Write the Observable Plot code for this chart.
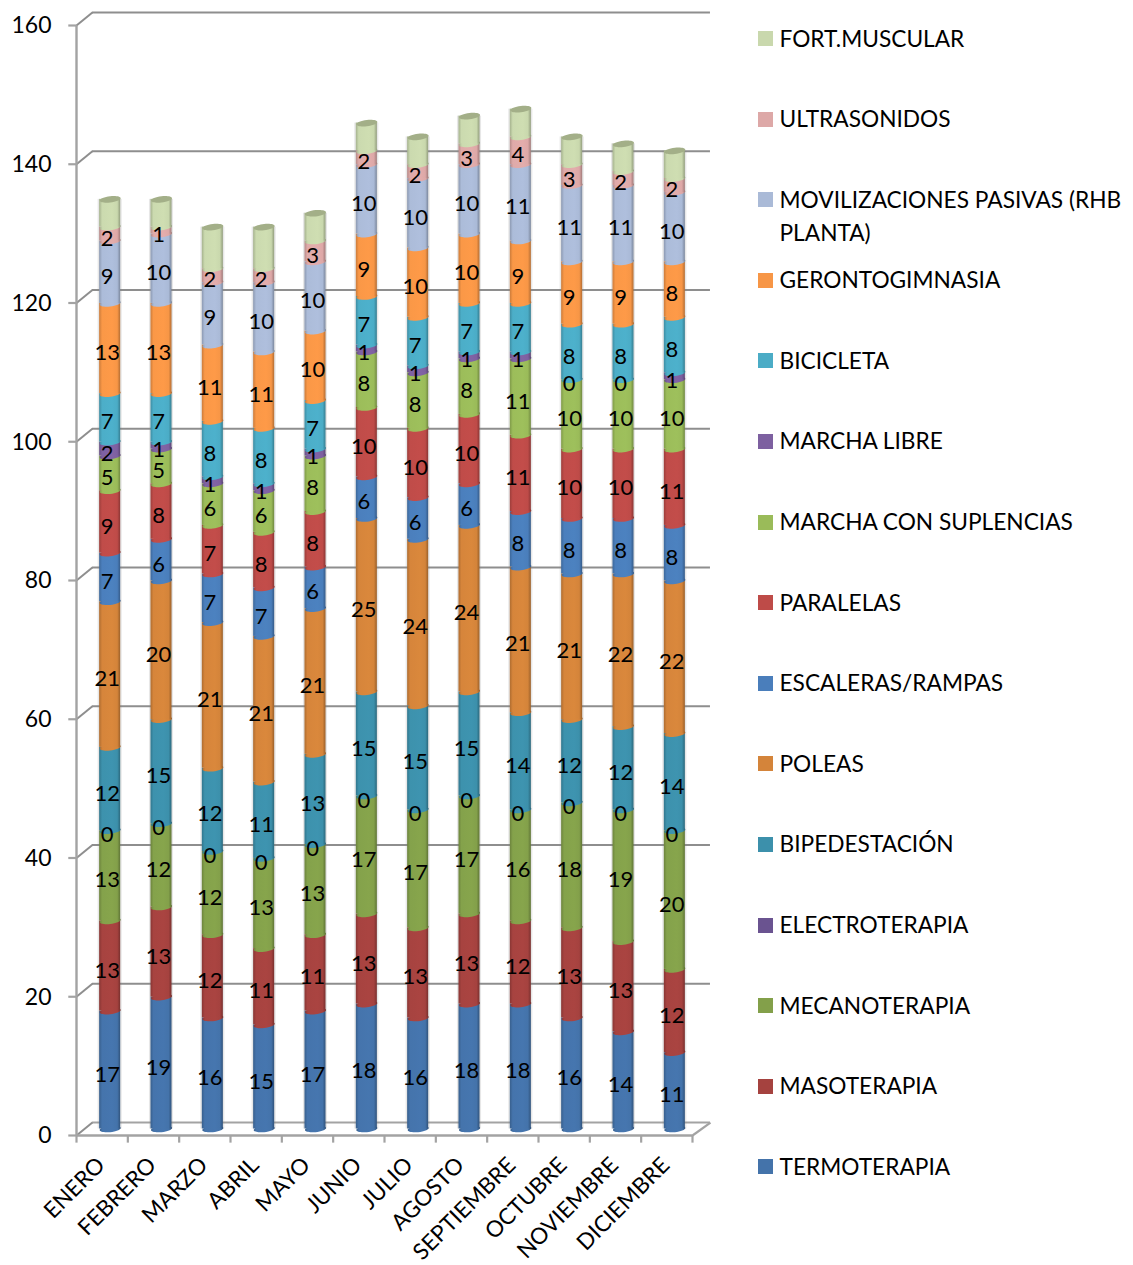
<!DOCTYPE html>
<html lang="es">
<head>
<meta charset="utf-8">
<script src="https://cdn.jsdelivr.net/npm/d3@7"></script>
<script src="https://cdn.jsdelivr.net/npm/@observablehq/plot@0.6"></script>
<style>
html,body{margin:0;padding:0;background:#fff;}
#wrap{position:relative;width:1133px;height:1265px;overflow:hidden;font-family:Lato,sans-serif;}
#wrap svg{display:block;}
#legend{position:absolute;left:758px;top:21.5px;width:372px;color:#000;font-size:22.7px;line-height:33px;}
#legend .row{height:80.6px;display:flex;align-items:flex-start;}
#legend i{flex:none;width:15px;height:15px;margin:9.5px 6.5px 0 0;}
</style>
</head>
<body>
<div id="wrap"></div>
<script>
const months = ["ENERO","FEBRERO","MARZO","ABRIL","MAYO","JUNIO","JULIO","AGOSTO","SEPTIEMBRE","OCTUBRE","NOVIEMBRE","DICIEMBRE"];
const seriesNames = ["TERMOTERAPIA","MASOTERAPIA","MECANOTERAPIA","ELECTROTERAPIA","BIPEDESTACIÓN","POLEAS","ESCALERAS/RAMPAS","PARALELAS","MARCHA CON SUPLENCIAS","MARCHA LIBRE","BICICLETA","GERONTOGIMNASIA","MOVILIZACIONES PASIVAS (RHB PLANTA)","ULTRASONIDOS","FORT.MUSCULAR"];
const colors = ["#4473AA","#A5423F","#83A04A","#6A5390","#3C90AB","#D4843A","#4A7EBB","#BE4B48","#9ABB59","#7D60A0","#4BACC6","#F79646","#AABAD7","#DDA8A7","#C9D8AD"];
const termoterapia  = [17,19,16,15,17,18,16,18,18,16,14,11];
const masoterapia   = [13,13,12,11,11,13,13,13,12,13,13,12];
const mecanoterapia = [13,12,12,13,13,17,17,17,16,18,19,20];
const electroterapia= [0,0,0,0,0,0,0,0,0,0,0,0];
const bipedestacion = [12,15,12,11,13,15,15,15,14,12,12,14];
const poleas        = [21,20,21,21,21,25,24,24,21,21,22,22];
const escaleras     = [7,6,7,7,6,6,6,6,8,8,8,8];
const paralelas     = [9,8,7,8,8,10,10,10,11,10,10,11];
const marchaSupl    = [5,5,6,6,8,8,8,8,11,10,10,10];
const marchaLibre   = [2,1,1,1,1,1,1,1,1,0,0,1];
const bicicleta     = [7,7,8,8,7,7,7,7,7,8,8,8];
const geronto       = [13,13,11,11,10,9,10,10,9,9,9,8];
const movilizaciones= [9,10,9,10,10,10,10,10,11,11,11,10];
const ultrasonidos  = [2,1,2,2,3,2,2,3,4,3,2,2];
const fortMuscular  = [4,4,6,6,4,4,4,4,4,4,4,4];
const yTicks = [0,20,40,60,80,100,120,140,160];
const allSeries = [termoterapia,masoterapia,mecanoterapia,electroterapia,bipedestacion,poleas,escaleras,paralelas,marchaSupl,marchaLibre,bicicleta,geronto,movilizaciones,ultrasonidos,fortMuscular];

// long table with stack extents
const rows = [];
months.forEach((m,i)=>{
  let base=0;
  allSeries.forEach((vals,s)=>{
    rows.push({month:m,i,s,v:vals[i],y1:base,y2:base+vals[i]});
    base+=vals[i];
  });
});
const tops = months.map((m,i)=>({i,top:d3.sum(allSeries,v=>v[i])}));

// 3D look
const wallX = 0.31, wallY = 1.87;
const barDx = 8, barDy = -6.5, halfW = 0.205;
const gridColor = "#8e8e8e", floorColor="#a3a3a3";

function ellipseSymbol(){
  return {draw(ctx,size){
    const a=Math.sqrt(size/Math.PI), b=a*0.3, t=-1.1/a, k=0.5523;
    const P=(x,y)=>[x, y+ t*x];
    const bz=(x1,y1,x2,y2,x3,y3)=>ctx.bezierCurveTo(...P(x1,y1),...P(x2,y2),...P(x3,y3));
    ctx.moveTo(...P(-a,0));
    bz(-a,-k*b,-k*a,-b,0,-b);
    bz(k*a,-b,a,-k*b,a,0);
    bz(a,k*b,k*a,b,0,b);
    bz(-k*a,b,-a,k*b,-a,0);
    ctx.closePath();
  }};
}
const sym = ellipseSymbol();

function defs(){
  const ns="http://www.w3.org/2000/svg";
  const d=document.createElementNS(ns,"defs");
  colors.forEach((c,s)=>{
    const g=document.createElementNS(ns,"linearGradient");
    g.setAttribute("id","cyl"+s);
    [[0,d3.color(c).darker(0.55)],[0.14,d3.color(c).brighter(0.03)],[0.62,d3.color(c).brighter(0.08)],[0.86,d3.color(c)],[1,d3.color(c).darker(0.9)]].forEach(([o,col])=>{
      const st=document.createElementNS(ns,"stop");
      st.setAttribute("offset",o);st.setAttribute("stop-color",col.formatHex());g.appendChild(st);
    });
    d.appendChild(g);
  });
  return d;
}

const barMarks = allSeries.flatMap((_,s)=>{
  const data = rows.filter(r=>r.s===s && r.v>0);
  const fill = `url(#cyl${s})`;
  return [
    Plot.dot(data,{x:d=>d.i+.5,y:"y1",r:10.5,symbol:sym,fill,stroke:"none",dx:barDx,dy:barDy}),
    Plot.rect(data,{x1:d=>d.i+.5-halfW,x2:d=>d.i+.5+halfW,y1:"y1",y2:"y2",fill,dx:barDx,dy:barDy})
  ];
});

const plot = Plot.plot({
  width:1133,height:1265,
  marginLeft:76,marginRight:441,marginTop:25,marginBottom:130,
  style:{fontFamily:"Lato,sans-serif",background:"#fff",color:"#000"},
  x:{type:"linear",domain:[0,12],axis:null},
  y:{domain:[0,160],axis:null},
  marks:[
    defs,
    // back wall gridlines
    Plot.ruleY(yTicks,{x1:wallX,x2:12+0.35,dy:-13,stroke:d=>d===0?floorColor:gridColor,strokeWidth:2.2}),
    Plot.link(yTicks,{x1:0,x2:wallX,y1:d=>d,y2:d=>d+wallY,stroke:gridColor,strokeWidth:2}),
    Plot.link(yTicks,{x1:-0.16,x2:0,y1:d=>d,y2:d=>d,stroke:floorColor,strokeWidth:2.2}),
    // front axis and floor
    Plot.ruleX([0],{y1:0,y2:160,stroke:floorColor,strokeWidth:2.4}),
    Plot.ruleY([0],{x1:0,x2:12,stroke:floorColor,strokeWidth:2.4}),
    Plot.link([12],{x1:d=>d,x2:d=>d+0.35,y1:0,y2:wallY,stroke:floorColor,strokeWidth:2.2}),
    Plot.ruleX(d3.range(13),{y1:0,y2:-1.1,stroke:floorColor,strokeWidth:2.2}),
    Plot.axisY({ticks:yTicks,tickSize:0,tickPadding:25,fontSize:23,fill:"#000",dy:0.5}),
    Plot.axisX(months.map((m,i)=>i+.5),{tickFormat:d=>months[Math.floor(d)],tickSize:0,tickPadding:26,tickRotate:-45,fontSize:22.5,fill:"#000",dx:-1}),
    // faint halo around each column
    Plot.rect(tops,{x1:d=>d.i+.5-halfW,x2:d=>d.i+.5+halfW,y1:0,y2:"top",fill:"#888",fillOpacity:0.2,insetLeft:-1.5,insetRight:-1.5,dx:barDx,dy:barDy}),
    ...barMarks,
    // top caps
    Plot.dot(tops,{x:d=>d.i+.5,y:"top",r:10.5,symbol:sym,fill:"#A3AF88",dx:barDx,dy:barDy}),
    // value labels
    Plot.text(rows.filter(r=>r.s<14),{x:d=>d.i+.5,y:d=>(d.y1+d.y2)/2,text:d=>String(d.v),fontSize:22,fill:"#000",dx:barDx-3,dy:barDy+4.5})
  ]
});
const wrap=document.getElementById("wrap");
wrap.appendChild(plot);

// legend (top entry first, as in the reference)
const legend=document.createElement("div");legend.id="legend";
seriesNames.map((n,s)=>({n,s})).reverse().forEach(({n,s})=>{
  const row=document.createElement("div");row.className="row";
  const sw=document.createElement("i");sw.style.background=colors[s];
  const t=document.createElement("span");t.textContent=n;
  row.append(sw,t);legend.appendChild(row);
});
wrap.appendChild(legend);
</script>
</body>
</html>
